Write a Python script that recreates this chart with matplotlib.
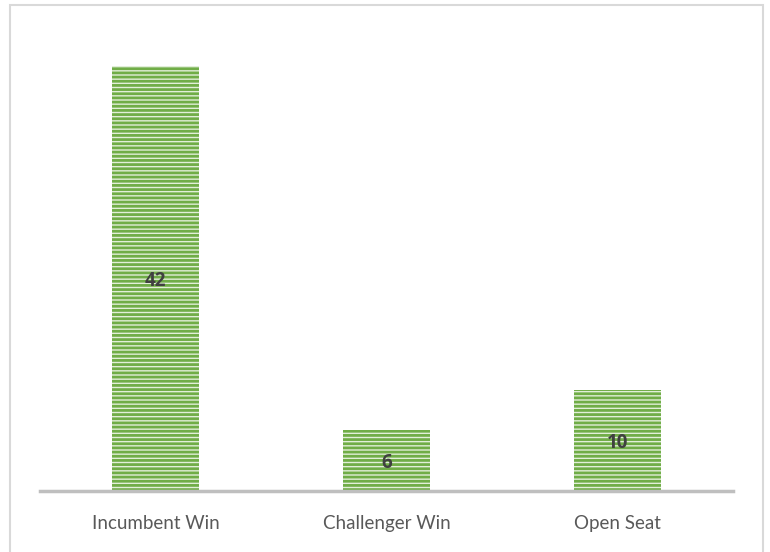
import matplotlib.pyplot as plt
import matplotlib.patches as patches

plt.rcParams['hatch.linewidth'] = 2.0
plt.rcParams['font.family'] = ['Lato', 'DejaVu Sans']

categories = ["Incumbent Win", "Challenger Win", "Open Seat"]
values = [42, 6, 10]

green = "#70ad47"

fig = plt.figure(figsize=(7.7, 5.52), dpi=100)
ax = fig.add_axes([40 / 770, 61 / 552, 693 / 770, 455 / 552])

x = list(range(len(categories)))
bars = ax.bar(x, values, width=0.38, facecolor="#e2efd9", edgecolor=green,
              hatch="----", linewidth=0)

for b, v in zip(bars, values):
    ax.text(b.get_x() + b.get_width() / 2, v / 2, str(v), ha="center",
            va="center_baseline", fontsize=13.5, fontweight="bold",
            color="#404040", family=["Open Sans", "DejaVu Sans"])

ax.set_xlim(-0.5, 2.5)
ax.set_ylim(0, 45)
ax.set_xticks(x)
ax.set_xticklabels(categories, fontsize=13.5, color="#595959")
ax.tick_params(axis="x", length=0, pad=17)
ax.set_yticks([])
for s in ["top", "right", "left"]:
    ax.spines[s].set_visible(False)
ax.spines["bottom"].set_color("#bfbfbf")
ax.spines["bottom"].set_linewidth(2.5)

# chart border
fig.patches.append(patches.Rectangle((10 / 770, -0.01), 753 / 770, 1 - 5 / 552 + 0.01,
                                     transform=fig.transFigure, fill=False,
                                     edgecolor="#d9d9d9", linewidth=1.5))

fig.savefig("out.png", dpi=100)
